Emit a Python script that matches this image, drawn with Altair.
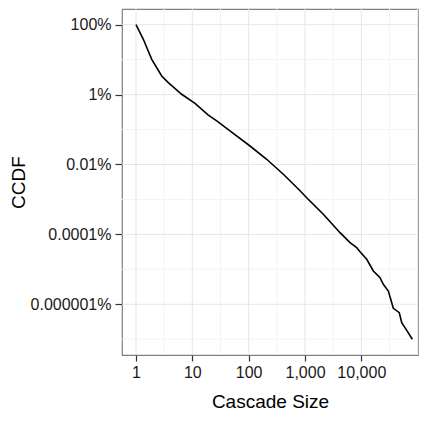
import altair as alt
import pandas as pd

# ---- data ----
cascade_size = [1, 1.349, 1.901, 2.858, 3.741, 6.471, 11.14, 19.23, 27.10, 53.33,
                105.7, 208.9, 412.1, 792.5, 1071.5, 2113, 4188, 6295, 8279, 9484,
                12470, 16330, 21480, 24550, 30130, 33270, 36980, 47210, 52120,
                63970, 80350]
ccdf = [1.0, 0.382, 0.102, 0.0340, 0.0219, 0.0102, 0.00564, 0.00259, 0.00176,
        7.82e-4, 3.38e-4, 1.41e-4, 5.25e-5, 1.86e-5, 1.12e-5, 3.76e-6, 1.12e-6,
        5.79e-7, 4.16e-7, 3.20e-7, 1.94e-7, 8.97e-8, 5.77e-8, 3.73e-8, 2.40e-8,
        1.39e-8, 7.67e-9, 5.75e-9, 2.98e-9, 1.80e-9, 9.98e-10]

x_major = [1, 10, 100, 1000, 10000]
x_minor = [3.1623, 31.623, 316.23, 3162.3, 31623, 100000]
y_major = [1, 1e-2, 1e-4, 1e-6, 1e-8]
y_minor = [1e-1, 1e-3, 1e-5, 1e-7, 1e-9]

FONT = "Liberation Sans"

df = pd.DataFrame({"size": cascade_size, "ccdf": ccdf})
xs = alt.Scale(type="log", domain=[0.564, 101400], nice=False)
ys = alt.Scale(type="log", domain=[3.54e-10, 2.81], nice=False)
x_axis = alt.Axis(values=x_major, format=",", title="Cascade Size",
                  tickSize=6, labelPadding=3, titlePadding=12)
y_axis = alt.Axis(values=y_major, format="~%", title="CCDF",
                  tickSize=7, labelPadding=4, titlePadding=2)

minor_x = alt.Chart(pd.DataFrame({"v": x_minor})).mark_rule(
    color="#f4f4f4", strokeWidth=1).encode(x=alt.X("v:Q", scale=xs, axis=x_axis))
minor_y = alt.Chart(pd.DataFrame({"v": y_minor})).mark_rule(
    color="#f4f4f4", strokeWidth=1).encode(y=alt.Y("v:Q", scale=ys, axis=y_axis))
major_x = alt.Chart(pd.DataFrame({"v": x_major})).mark_rule(
    color="#e6e6e6", strokeWidth=1).encode(x=alt.X("v:Q", scale=xs, axis=x_axis))
major_y = alt.Chart(pd.DataFrame({"v": y_major})).mark_rule(
    color="#e6e6e6", strokeWidth=1).encode(y=alt.Y("v:Q", scale=ys, axis=y_axis))

line = alt.Chart(df).mark_line(color="black", strokeWidth=1.6).encode(
    x=alt.X("size:Q", scale=xs, axis=x_axis),
    y=alt.Y("ccdf:Q", scale=ys, axis=y_axis),
)

chart = alt.layer(minor_x, minor_y, major_x, major_y, line).properties(
    width=296, height=346,
    padding={"left": 1, "top": 0, "right": 0, "bottom": 0},
).configure_view(
    stroke="#808080", strokeWidth=1.2
).configure_axis(
    grid=False, domain=False,
    labelFont=FONT, titleFont=FONT,
    labelFontSize=16, titleFontSize=19,
    labelColor="#1a1a1a", titleColor="#000000",
    titleFontWeight="normal",
    tickColor="#333333", tickWidth=1.2,
)

chart.save("out.html", embed_options={"renderer": "svg", "actions": False})
